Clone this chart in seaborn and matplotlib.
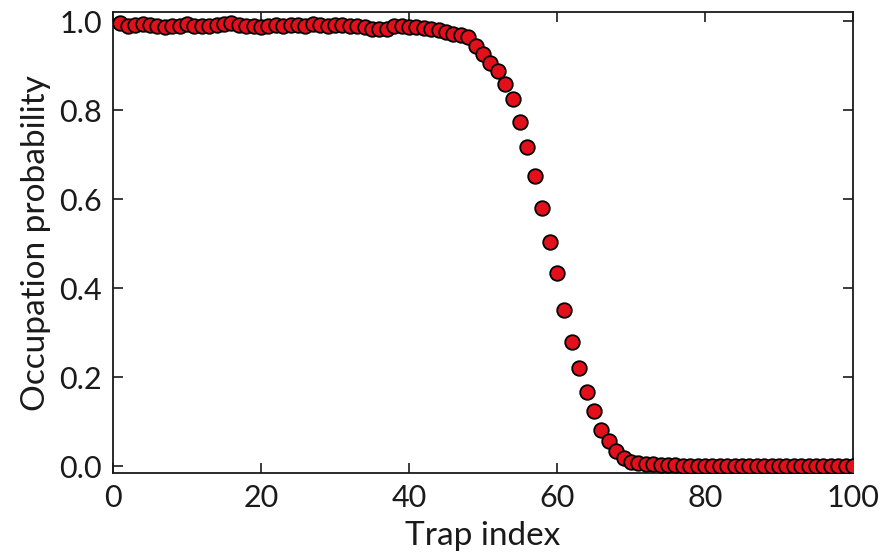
import numpy as np
import pandas as pd
import matplotlib
matplotlib.use('Agg')
import matplotlib.pyplot as plt
import seaborn as sns

# trap index 1..100 and occupation probability
trap_index = list(range(1, 101))
occupation = [
    0.996, 0.990, 0.992, 0.993, 0.991, 0.989, 0.987, 0.989, 0.990, 0.994,
    0.988, 0.988, 0.990, 0.991, 0.993, 0.995, 0.992, 0.990, 0.988, 0.987,
    0.989, 0.991, 0.990, 0.992, 0.991, 0.989, 0.993, 0.991, 0.990, 0.992,
    0.991, 0.988, 0.990, 0.987, 0.983, 0.982, 0.983, 0.988, 0.989, 0.987,
    0.986, 0.985, 0.983, 0.980, 0.976, 0.972, 0.968, 0.965, 0.945, 0.925,
    0.907, 0.888, 0.858, 0.824, 0.773, 0.718, 0.652, 0.580, 0.504, 0.433,
    0.351, 0.278, 0.220, 0.166, 0.124, 0.081, 0.056, 0.034, 0.019, 0.010,
    0.007, 0.005, 0.004, 0.003, 0.002, 0.002, 0.001, 0.001, 0.001, 0.001,
    0.001, 0.001, 0.001, 0.001, 0.001, 0.001, 0.001, 0.001, 0.001, 0.001,
    0.001, 0.001, 0.001, 0.001, 0.001, 0.001, 0.001, 0.001, 0.001, 0.001,
]
x_ticks = [0, 20, 40, 60, 80, 100]
y_ticks = [0.0, 0.2, 0.4, 0.6, 0.8, 1.0]

df = pd.DataFrame({'Trap index': trap_index, 'Occupation probability': occupation})

sns.set_style('ticks')
plt.rcParams['font.family'] = ['Lato', 'DejaVu Sans']

fig = plt.figure(figsize=(8.89, 5.56), dpi=100)
ax = fig.add_axes([0.127, 0.149, 0.8325, 0.829])

sns.scatterplot(data=df, x='Trap index', y='Occupation probability', ax=ax,
                s=110, color='#e3101b', edgecolor='black', linewidth=1.3,
                zorder=3, clip_on=True)

ax.set_xlim(0, 100)
ax.set_ylim(-0.016, 1.02)
ax.set_xticks(x_ticks)
ax.set_yticks(y_ticks)
ax.set_yticklabels([f'{v:.1f}' for v in y_ticks])
ax.tick_params(direction='in', length=7, width=1.2, top=True, right=True,
               labelsize=22, colors='#1a1a1a', pad=8)
for sp in ax.spines.values():
    sp.set_linewidth(1.3)
    sp.set_color('#1a1a1a')
ax.set_xlabel('Trap index', fontsize=24, color='#1a1a1a', labelpad=6)
ax.set_ylabel('Occupation probability', fontsize=24, color='#1a1a1a', labelpad=6)

fig.savefig('out.png', dpi=100)
